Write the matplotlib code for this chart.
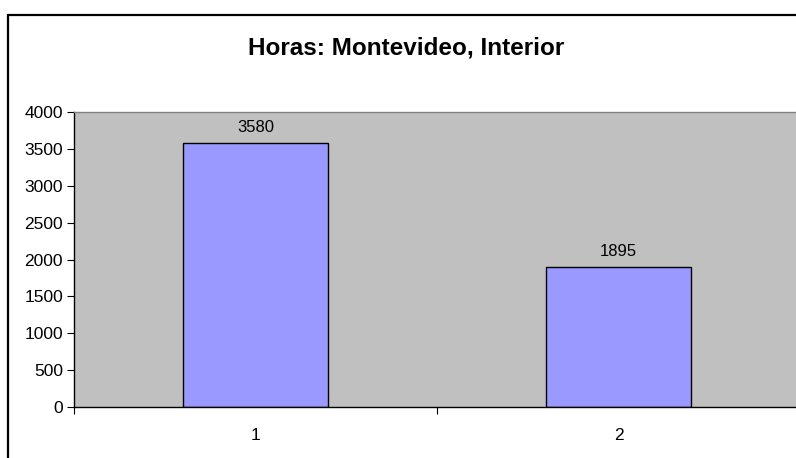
import matplotlib
matplotlib.use("Agg")
import matplotlib.pyplot as plt
from matplotlib.patches import Rectangle
from matplotlib.ticker import FixedLocator, NullFormatter

categories = ["1", "2"]
values = [3580, 1895]
title = "Horas: Montevideo, Interior"
yticks = [0, 500, 1000, 1500, 2000, 2500, 3000, 3500, 4000]

plt.rcParams['font.family'] = ['Liberation Sans', 'DejaVu Sans']

W, H = 796, 458
fig = plt.figure(figsize=(W / 100, H / 100), dpi=100)
fig.patch.set_facecolor("white")

# chart border (extends past the right/bottom edge)
fig.patches.append(Rectangle((8 / W, -0.05), 1.2, 1 - 15 / H + 0.05,
                             transform=fig.transFigure, fill=False,
                             edgecolor="black", linewidth=1.6))

l, r, t, b = 74, 800, 112, 407
ax = fig.add_axes([l / W, 1 - b / H, (r - l) / W, (b - t) / H])
ax.set_facecolor("#C0C0C0")

x = list(range(1, len(categories) + 1))
bars = ax.bar(x, values, width=0.4, color="#9999FF", edgecolor="black", linewidth=1.0, zorder=2)
for xi, v in zip(x, values):
    ax.text(xi, v + 110, str(v), ha="center", va="bottom", fontsize=12, color="black")

ax.set_xlim(0.5, len(categories) + 0.5)
ax.set_ylim(0, 4000)
ax.set_yticks(yticks)
ax.set_yticklabels([str(v) for v in yticks], fontsize=12.5)

ax.xaxis.set_major_locator(FixedLocator([i + 0.5 for i in range(len(categories) + 1)]))
ax.xaxis.set_major_formatter(NullFormatter())
ax.xaxis.set_minor_locator(FixedLocator(x))
ax.set_xticklabels(categories, minor=True, fontsize=12.5)
ax.tick_params(axis="x", which="major", direction="out", length=5, width=0.8, color="black")
ax.tick_params(axis="x", which="minor", length=0, pad=15)
ax.tick_params(axis="y", direction="out", length=5, width=0.8, color="black", pad=3)

for s in ["top", "right"]:
    ax.spines[s].set_color("#808080")
    ax.spines[s].set_linewidth(1.0)
ax.spines["left"].set_color("black")
ax.spines["bottom"].set_color("black")
ax.spines["left"].set_linewidth(1.0)
ax.spines["bottom"].set_linewidth(1.0)

fig.text(406 / W, 1 - 48 / H, title, ha="center", va="center",
         fontsize=17.5, fontweight="bold", color="black")

fig.savefig("out.png", dpi=100)
